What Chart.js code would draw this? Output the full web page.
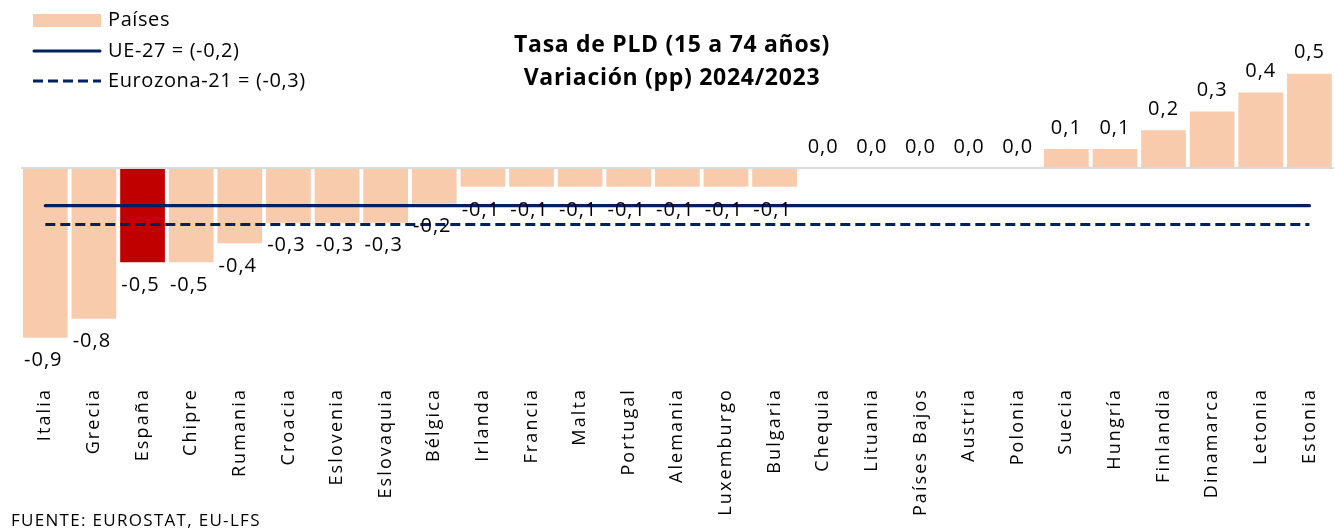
<!DOCTYPE html>
<html><head><meta charset="utf-8">
<script src="https://cdn.jsdelivr.net/npm/chart.js@4.4.1/dist/chart.umd.min.js"></script>
<style>html,body{margin:0;padding:0;background:#fff;overflow:hidden}#wrap{width:1335px;height:531px;position:relative}</style>
</head><body><div id="wrap"><canvas id="c" width="1335" height="531"></canvas></div>
<script>
const categories = ['Italia','Grecia','España','Chipre','Rumania','Croacia','Eslovenia','Eslovaquia','Bélgica','Irlanda','Francia','Malta','Portugal','Alemania','Luxemburgo','Bulgaria','Chequia','Lituania','Países Bajos','Austria','Polonia','Suecia','Hungría','Finlandia','Dinamarca','Letonia','Estonia'];
const values = [-0.9,-0.8,-0.5,-0.5,-0.4,-0.29,-0.29,-0.29,-0.19,-0.1,-0.1,-0.1,-0.1,-0.1,-0.1,-0.1,0.0,0.0,0.0,0.0,0.0,0.1,0.1,0.2,0.3,0.4,0.5];
const highlighted = 'España';
const ue27Value = -0.2;
const eurozonaValue = -0.3;
const seriesNames = ['Países','UE-27 = (-0,2)','Eurozona-21 = (-0,3)'];
const titleLines = ['Tasa de PLD (15 a 74 años)','Variación (pp) 2024/2023'];
const sourceNote = 'FUENTE: EUROSTAT, EU-LFS';

const PEACH = '#F8CBAD', RED = '#C00000', NAVY = '#002060';
const fmt = v => v.toFixed(1).replace('.', ',');

const tickSpacing = {
  id: 'tickSpacing',
  beforeDraw(chart){ chart.ctx.letterSpacing = '2.1px'; },
  beforeDatasetsDraw(chart){ chart.ctx.letterSpacing = '0px'; }
};

const valueLabels = {
  id: 'valueLabels',
  afterDatasetsDraw(chart){
    const ctx = chart.ctx;
    const barIndex = chart.data.datasets.findIndex(d => d.type === 'bar');
    const meta = chart.getDatasetMeta(barIndex);
    ctx.save();
    ctx.letterSpacing = '1px';
    ctx.font = '20px "Open Sans"';
    ctx.fillStyle = '#000';
    ctx.textAlign = 'center';
    ctx.textBaseline = 'middle';
    meta.data.forEach((bar, i) => {
      const v = values[i];
      const y = v < 0 ? bar.y + 23 : bar.y - 21;
      ctx.fillText(fmt(v), bar.x - (v < 0 ? 2 : 0), y);
    });
    ctx.restore();
  }
};

const decorations = {
  id: 'decorations',
  afterDraw(chart){
    const ctx = chart.ctx;
    ctx.save();
    // title
    ctx.fillStyle = '#000';
    ctx.textAlign = 'center';
    ctx.textBaseline = 'middle';
    ctx.font = 'bold 23px "Open Sans"';
    ctx.letterSpacing = '0.7px';
    ctx.fillText(titleLines[0], 672, 45);
    ctx.fillText(titleLines[1], 672, 78);
    // legend
    ctx.textAlign = 'left';
    ctx.font = '20px "Open Sans"';
    ctx.letterSpacing = '0.6px';
    const rows = [20, 51, 81];
    ctx.fillStyle = PEACH;
    ctx.fillRect(33, 14, 68, 13);
    ctx.strokeStyle = NAVY; ctx.lineWidth = 3;
    ctx.beginPath(); ctx.lineCap = 'round'; ctx.moveTo(34, rows[1]); ctx.lineTo(100, rows[1]); ctx.stroke();
    ctx.beginPath(); ctx.lineCap = 'butt'; ctx.setLineDash([10,5]); ctx.moveTo(33, rows[2]); ctx.lineTo(101, rows[2]); ctx.stroke();
    ctx.setLineDash([]);
    ctx.fillStyle = '#000';
    seriesNames.forEach((name, i) => ctx.fillText(name, 108, rows[i]));
    // source
    ctx.font = '17px "Open Sans"';
    ctx.letterSpacing = '1.3px';
    ctx.fillText(sourceNote, 11, 521);
    ctx.restore();
  }
};

new Chart(document.getElementById('c'), {
  data: {
    labels: categories,
    datasets: [
      { type: 'line', label: seriesNames[1], data: categories.map(() => ue27Value), borderColor: NAVY, borderWidth: 3.2, pointRadius: 0, borderCapStyle: 'round', fill: false, order: 0 },
      { type: 'line', label: seriesNames[2], data: categories.map(() => eurozonaValue), borderColor: NAVY, borderWidth: 3.2, pointRadius: 0, borderDash: [10,5], fill: false, order: 1 },
      { type: 'bar', label: seriesNames[0], data: values,
        backgroundColor: c => categories[c.dataIndex] === highlighted ? RED : PEACH,
        borderWidth: 0, barPercentage: 0.92, categoryPercentage: 1, order: 2 }
    ]
  },
  options: {
    responsive: false,
    animation: false,
    events: [],
    layout: { padding: { top: 0, left: 0, right: -5, bottom: 0 } },
    plugins: { legend: { display: false }, title: { display: false }, tooltip: { enabled: false } },
    scales: {
      x: {
        type: 'category',
        offset: true,
        grid: { display: false, drawTicks: false },
        border: { display: false },
        ticks: { minRotation: 90, maxRotation: 90, autoSkip: false, padding: 4, color: '#000', font: { family: '"Open Sans"', size: 18 } },
        afterFit(s){ s.height = 147; }
      },
      y: {
        min: -1.146, max: 0.891,
        grid: { color: '#D9D9D9', lineWidth: 2, drawTicks: false },
        border: { display: false },
        ticks: { display: false },
        afterBuildTicks(s){ s.ticks = [{ value: 0 }]; },
        afterFit(s){ s.width = 21; }
      }
    }
  },
  plugins: [tickSpacing, valueLabels, decorations]
});
</script>
</body></html>
